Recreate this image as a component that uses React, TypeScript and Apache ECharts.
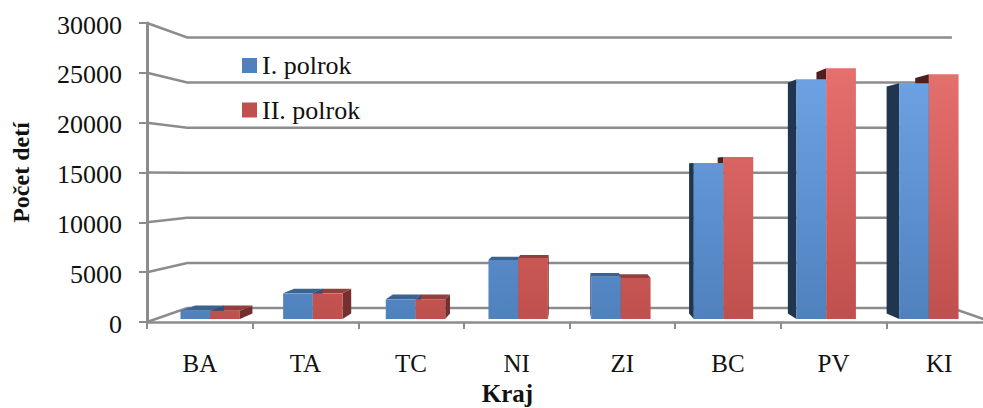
import React, { useEffect, useRef } from "react";
import * as echarts from "echarts";

const categories = ["BA", "TA", "TC", "NI", "ZI", "BC", "PV", "KI"];
const firstHalf = [850, 2630, 2020, 6040, 4330, 15990, 24565, 24155];
const secondHalf = [850, 2630, 2030, 6245, 4195, 16600, 25690, 25075];
const yTicks = [0, 5000, 10000, 15000, 20000, 25000, 30000];

const FONT = '"Liberation Serif", "Times New Roman", serif';
const VP = [570, 175];
const WALL = 0.905;
const SX = 0.972;
const SY = 0.98;
const DEPTH = 0.962;
const BAR_RATIO = 0.2895;
const GRID_COLOR = "#8c8c8c";

const proj = (x: number, y: number, sx: number, sy: number) => [VP[0] + (x - VP[0]) * sx, VP[1] + (y - VP[1]) * sy];

function wallItem(_params: any, api: any) {
  const cs = _params.coordSys;
  const y = api.coord([0, api.value(0)])[1];
  const x0 = cs.x;
  const x1 = cs.x + cs.width;
  const a = proj(x0, y, WALL, WALL);
  const b = proj(x1, y, WALL, WALL);
  const pts = api.value(0) === 0 ? [[x0, y], a, b, [x1, y]] : [[x0, y], a, b];
  return {
    type: "polyline",
    shape: { points: pts },
    style: { stroke: GRID_COLOR, lineWidth: 2.5, fill: "none" },
    silent: true,
  };
}

function geometry(api: any, side: number) {
  const c = api.coord([api.value(0), api.value(1)]);
  const base = api.coord([api.value(0), 0])[1];
  const w = api.size([1, 0])[0] * BAR_RATIO;
  const l = side < 0 ? c[0] - w : c[0];
  const r = side < 0 ? c[0] : c[0] + w;
  const p = (x: number, y: number) => proj(x, y, SX, SY);
  const q = (x: number, y: number) => proj(x, y, SX * DEPTH, SY * DEPTH);
  return { l, r, top: c[1], base, p, q };
}

function frontItem(side: number, colors: [string, string]) {
  return (_params: any, api: any) => {
    const g = geometry(api, side);
    const fill = new echarts.graphic.LinearGradient(0, 319, 0, 60, [
      { offset: 0, color: colors[0] },
      { offset: 1, color: colors[1] },
    ], true);
    return {
      type: "polygon",
      shape: { points: [g.p(g.l, g.top), g.p(g.r, g.top), g.p(g.r, g.base), g.p(g.l, g.base)] },
      style: { fill },
      silent: true,
    };
  };
}

function backItem(side: number, topColor: string, lowColor: string, darkColor: string) {
  return (_params: any, api: any) => {
    const g = geometry(api, side);
    const children: any[] = [];
    const frontEdgeX = g.p(g.l, 0)[0];
    const visibleLeft = frontEdgeX > VP[0];
    const ex = visibleLeft ? g.l : g.r;
    children.push({
      type: "polygon",
      shape: { points: [g.p(ex, g.top), g.q(ex, g.top), g.q(ex, g.base), g.p(ex, g.base)] },
      style: { fill: visibleLeft ? darkColor : lowColor },
    });
    if (g.p(0, g.top)[1] > VP[1]) {
      children.push({
        type: "polygon",
        shape: { points: [g.p(g.l, g.top), g.q(g.l, g.top), g.q(g.r, g.top), g.p(g.r, g.top)] },
        style: { fill: topColor },
      });
    }
    return { type: "group", children, silent: true };
  };
}

const toRows = (arr: number[]) => arr.map((v, i) => [i, v]);

export default function App() {
  const ref = useRef<HTMLDivElement>(null);
  useEffect(() => {
    document.body.style.margin = "0";
    const chart = echarts.init(ref.current!, undefined, { renderer: "svg" });
    const custom = {
      type: "custom",
      clip: false,
      coordinateSystem: "cartesian2d",
      encode: { x: 0, y: 1 },
    };
    chart.setOption({
      animation: false,
      backgroundColor: "#ffffff",
      grid: { left: 147, top: 23, width: 845, height: 299, containLabel: false, outerBoundsMode: "none" },
      legend: {
        show: true,
        orient: "vertical",
        left: 237,
        top: 47.5,
        itemWidth: 15,
        itemHeight: 15,
        itemGap: 18.5,
        icon: "rect",
        selectedMode: false,
        data: ["I. polrok", "II. polrok"],
        textStyle: { fontFamily: FONT, fontSize: 26, color: "#111111" },
      },
      xAxis: {
        type: "category",
        data: categories,
        name: "Kraj",
        nameLocation: "middle",
        nameGap: 58,
        nameTextStyle: { fontFamily: FONT, fontSize: 25, fontWeight: "bold", color: "#111111", padding: [0, 124, 0, 0] },
        axisLine: { lineStyle: { color: GRID_COLOR, width: 2.5 } },
        axisTick: { show: true, length: 7, alignWithLabel: false, lineStyle: { color: GRID_COLOR, width: 2 } },
        axisLabel: { fontFamily: FONT, fontSize: 25, color: "#111111", margin: 29, interval: 0 },
      },
      yAxis: {
        type: "value",
        min: 0,
        max: 30000,
        interval: 5000,
        name: "Počet detí",
        nameLocation: "middle",
        nameGap: 114,
        nameRotate: 90,
        nameTextStyle: { fontFamily: FONT, fontSize: 24, fontWeight: "bold", color: "#111111" },
        axisLine: { show: true, lineStyle: { color: GRID_COLOR, width: 3 } },
        axisTick: { show: true, length: 8, lineStyle: { color: GRID_COLOR, width: 2 } },
        axisLabel: {
          fontFamily: FONT,
          fontSize: 26,
          color: "#111111",
          margin: 25,
          formatter: (v: number) => `{n|${v}}`,
          rich: { n: { fontFamily: FONT, fontSize: 26, color: "#111111", padding: [4, 0, 0, 0] } },
        },
        splitLine: { show: false },
      },
      series: [
        { ...custom, name: "wall", renderItem: wallItem, data: yTicks.map((v) => [v]), encode: { y: 0 } },
        { ...custom, name: "back II", renderItem: backItem(1, "#93403d", "#74302e", "#4f1f1e"), data: toRows(secondHalf) },
        { ...custom, name: "back I", renderItem: backItem(-1, "#3b6392", "#2f5078", "#1f3550"), data: toRows(firstHalf) },
        { ...custom, name: "I. polrok", renderItem: frontItem(-1, ["#4f81bd", "#6ea4e6"]), itemStyle: { color: "#4f81bd" }, data: toRows(firstHalf) },
        { ...custom, name: "II. polrok", renderItem: frontItem(1, ["#c0504d", "#e6716f"]), itemStyle: { color: "#c0504d" }, data: toRows(secondHalf) },
      ],
    });
    return () => chart.dispose();
  }, []);
  return <div ref={ref} style={{ position: "absolute", left: 0, top: 0, width: 983, height: 408, overflow: "hidden" }} />;
}
